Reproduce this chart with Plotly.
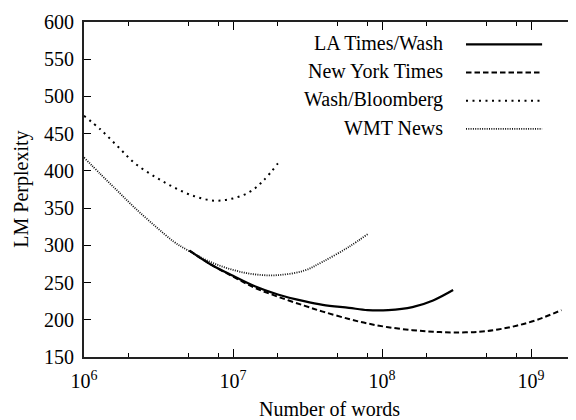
import plotly.graph_objects as go

# ---- data ----
la_x = [5.1e6, 7e6, 1e7, 1.4e7, 2e7, 3e7, 4e7, 6e7, 8e7, 1.1e8, 1.6e8, 2.2e8, 3e8]
la_y = [293, 275, 259, 245, 234, 225, 220, 216, 213, 213, 217, 226, 240]

nyt_x = [5.1e6, 7e6, 1e7, 1.4e7, 2e7, 3e7, 4e7, 6e7, 8e7, 1.1e8, 1.6e8, 2.2e8, 3e8,
         4.5e8, 6e8, 8e8, 1.1e9, 1.6e9]
nyt_y = [293, 275, 258, 243, 231, 219, 211, 201, 195, 190, 186, 184, 183,
         184, 187, 192, 200, 213]

wb_x = [1e6, 1.3e6, 1.7e6, 2.2e6, 3e6, 4e6, 5.5e6, 7.5e6, 1e7, 1.3e7, 1.6e7, 2e7]
wb_y = [474, 455, 432, 410, 392, 378, 366, 360, 363, 372, 387, 410]

wmt_x = [1e6, 1.3e6, 1.7e6, 2.2e6, 3e6, 4e6, 5e6, 7e6, 1e7, 1.4e7, 2e7, 3e7, 4e7, 6e7, 8e7]
wmt_y = [418, 395, 372, 350, 326, 305, 293, 278, 267, 261, 260, 266, 278, 298, 315]

series_names = ["LA Times/Wash", "New York Times", "Wash/Bloomberg", "WMT News"]

x_tick_vals = [1e6, 1e7, 1e8, 1e9]
x_tick_text = ["10<sup>6</sup>", "10<sup>7</sup>", "10<sup>8</sup>", "10<sup>9</sup>"]
x_minor_vals = [2e6, 5e6, 8e6, 2e7, 5e7, 8e7, 2e8, 5e8, 8e8]
y_tick_vals = [150, 200, 250, 300, 350, 400, 450, 500, 550, 600]

# ---- styles ----
styles = [
    dict(color="black", width=2.2, dash="solid"),
    dict(color="black", width=2.0, dash="5.5px,3px"),
    dict(color="black", width=2.0, dash="2px,4.5px"),
    dict(color="#111", width=1.8, dash="1px,1.3px"),
]

fig = go.Figure()
for (xs, ys), name, st in zip([(la_x, la_y), (nyt_x, nyt_y), (wb_x, wb_y), (wmt_x, wmt_y)],
                              series_names, styles):
    fig.add_trace(go.Scatter(x=xs, y=ys, mode="lines", name=name, line=st,
                             line_shape="spline", showlegend=False))

font = "'Liberation Serif', 'Times New Roman', serif"

# manual legend (text left of sample)
leg_y = [0.937, 0.853, 0.769, 0.685]
for name, st, yy in zip(series_names, styles, leg_y):
    fig.add_annotation(x=0.736, y=yy, xref="paper", yref="paper", text=name,
                       showarrow=False, xanchor="right", yanchor="middle",
                       font=dict(family=font, size=20, color="black"))
    fig.add_shape(type="line", xref="paper", yref="paper", x0=0.778, x1=0.933,
                  y0=yy - 0.004, y1=yy - 0.004, line=st)

# axis titles
fig.add_annotation(x=0.501, y=-0.155, xref="paper", yref="paper", text="Number of words",
                   showarrow=False, xanchor="center", yanchor="middle",
                   font=dict(family=font, size=20, color="black"))
fig.add_annotation(x=-0.128, y=0.5, xref="paper", yref="paper", text="LM Perplexity",
                   showarrow=False, xanchor="center", yanchor="middle", textangle=-90,
                   font=dict(family=font, size=20, color="black"))

fig.update_layout(
    width=568, height=412,
    margin=dict(l=76, r=1, t=14, b=63),
    paper_bgcolor="white", plot_bgcolor="white",
    font=dict(family=font, size=20, color="black"),
    xaxis=dict(
        type="log", range=[6, 9.295],
        tickvals=x_tick_vals, ticktext=x_tick_text,
        ticks="inside", ticklen=8, tickwidth=1.2, tickcolor="black",
        minor=dict(tickvals=x_minor_vals, ticks="inside", ticklen=4,
                   tickwidth=1.2, tickcolor="black"),
        showline=True, linecolor="#222", linewidth=1.8, mirror="ticks",
        showgrid=False, zeroline=False, automargin=False,
        ticklabelstandoff=5,
        tickfont=dict(family=font, size=20),
    ),
    yaxis=dict(
        range=[150, 600], tickvals=y_tick_vals,
        ticks="inside", ticklen=7, tickwidth=1.2, tickcolor="black",
        showline=True, linecolor="#222", linewidth=1.8, mirror="ticks",
        showgrid=False, zeroline=False, automargin=False,
        ticklabelstandoff=4,
        tickfont=dict(family=font, size=20),
    ),
)

fig.write_html("out.html")
